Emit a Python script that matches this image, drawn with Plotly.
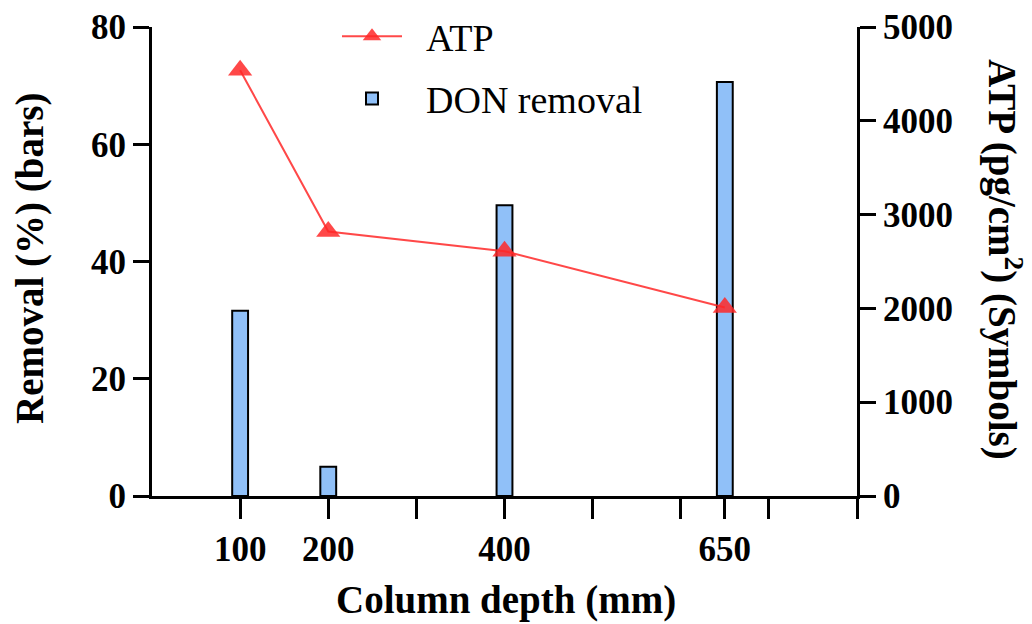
import plotly.graph_objects as go

depth = [100, 200, 400, 650]
don_removal = [31.6, 5.0, 49.6, 70.6]
atp = [4540, 2820, 2610, 2010]

x_label_vals = [100, 200, 400, 650]
x_label_text = ["100", "200", "400", "650"]
x_plain_ticks = [300, 500, 600, 700, 800]

FONT = "Liberation Serif, Times New Roman, serif"
DX, DY = 6, 9  # page offset compensation
W, H = 1032, 624
L, R, T, B = 150 - DX, 855 - DX, 28 - DY, 497 - DY
PW, PH = R - L, B - T

fig = go.Figure()
fig.add_trace(go.Scatter(
    x=depth, y=atp, name="\u00a0\u00a0ATP", yaxis="y2", mode="lines+markers",
    legendgroup="a",
    line=dict(color="rgba(255,40,40,0.85)", width=2),
    marker=dict(symbol="triangle-up", size=21, color="rgba(255,40,40,0.85)"),
))
fig.add_trace(go.Bar(
    x=depth, y=don_removal, name="\u00a0\u00a0DON removal", width=18,
    legendgroup="b",
    marker=dict(color="#90C0F8", line=dict(color="black", width=2)),
))

axis_common = dict(
    showline=True, linecolor="black", linewidth=3, ticks="outside",
    tickwidth=3, tickcolor="black", showgrid=False, zeroline=False,
    automargin=False,
    tickfont=dict(family=FONT, size=35, color="black", weight="bold"),
)

title_font = dict(family=FONT, size=39, color="black", weight="bold")

fig.update_layout(
    width=W, height=H,
    margin=dict(l=L, r=W - R, t=T, b=H - B, autoexpand=False),
    paper_bgcolor="white", plot_bgcolor="white",
    showlegend=True,
    legend=dict(x=185 / PW, y=1 + 22 / PH, xanchor="left", yanchor="top",
                font=dict(family=FONT, size=38, color="black"),
                bgcolor="rgba(0,0,0,0)", traceorder="grouped",
                itemwidth=60, tracegroupgap=10),
    xaxis=dict(range=[0, 800], tickmode="array", tickvals=x_label_vals,
               ticktext=x_label_text, ticklen=20,
               minor=dict(tickmode="array", tickvals=x_plain_ticks, ticks="outside",
                          ticklen=20, tickwidth=3, tickcolor="black", showgrid=False),
               **axis_common),
    yaxis=dict(range=[0, 80], tickvals=[0, 20, 40, 60, 80], ticklen=16, **axis_common),
    yaxis2=dict(range=[0, 5000], tickvals=[0, 1000, 2000, 3000, 4000, 5000],
                overlaying="y", side="right", ticklen=16, **axis_common),
    annotations=[
        dict(text="Column depth (mm)", xref="paper", yref="paper",
             x=(504 - 150) / PW, y=(497 - 601) / PH, xanchor="center", yanchor="middle",
             showarrow=False, font=title_font),
        dict(text="Removal (%) (bars)", xref="paper", yref="paper",
             x=(28 - 150) / PW, y=(497 - 260) / PH, xanchor="center", yanchor="middle",
             textangle=-90, showarrow=False, font=title_font),
        dict(text="ATP (pg/cm<sup>2</sup>) (Symbols)", xref="paper", yref="paper",
             x=(1003 - 150) / PW, y=(497 - 260) / PH, xanchor="center", yanchor="middle",
             textangle=90, showarrow=False, font=title_font),
    ],
)

fig.write_html("out.html")
